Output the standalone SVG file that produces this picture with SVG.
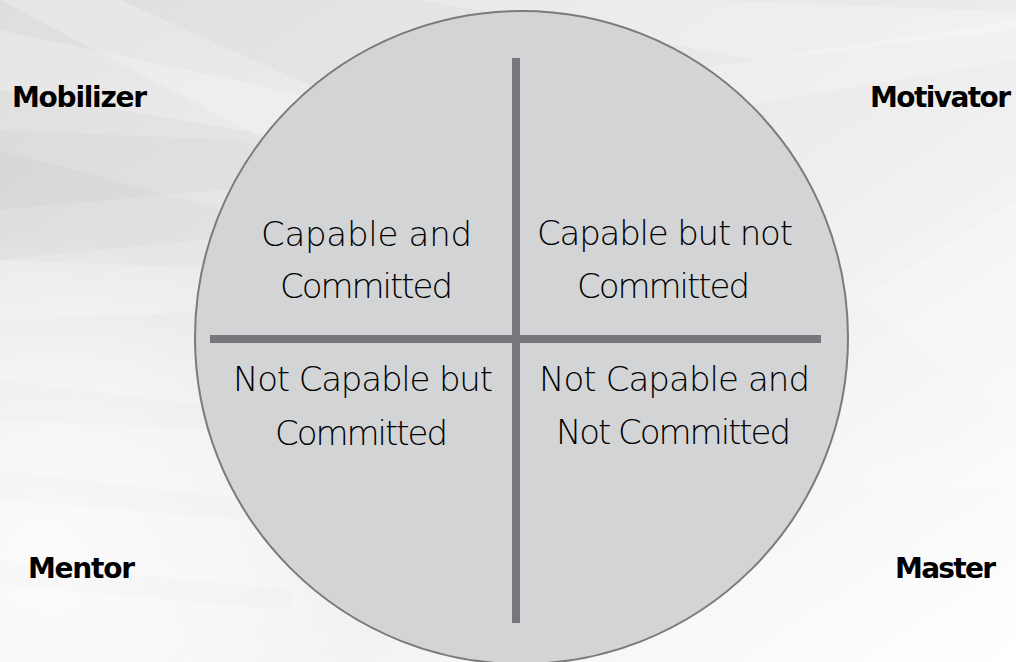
<svg xmlns="http://www.w3.org/2000/svg" width="1016" height="662" viewBox="0 0 1016 662">
  <defs>
    <linearGradient id="bgGrad" x1="0" y1="0" x2="1" y2="1">
      <stop offset="0" stop-color="#dedede"/>
      <stop offset="0.45" stop-color="#ebebeb"/>
      <stop offset="0.8" stop-color="#f8f8f8"/>
      <stop offset="1" stop-color="#ffffff"/>
    </linearGradient>
    <radialGradient id="lowerGlow" cx="40" cy="560" r="330" gradientUnits="userSpaceOnUse">
      <stop offset="0" stop-color="#ffffff" stop-opacity="0.85"/>
      <stop offset="0.6" stop-color="#ffffff" stop-opacity="0.5"/>
      <stop offset="1" stop-color="#ffffff" stop-opacity="0"/>
    </radialGradient>
    <style>
      .streak-l { fill: #ffffff; fill-opacity: 0.22; }
      .streak-d { fill: #000000; fill-opacity: 0.02; }
      .streak-f { fill: #000000; fill-opacity: 0.012; }
      .disc { fill: #d3d4d6; stroke: #7b7b7d; stroke-width: 2; }
      .divider { stroke: #76777b; stroke-width: 8; stroke-linecap: butt; }
      .quad { font-family: "DejaVu Sans", "Liberation Sans", sans-serif; font-weight: 200; font-size: 34px; fill: #000000; }
      .role { font-family: "DejaVu Sans", "Liberation Sans", sans-serif; font-weight: 700; font-size: 28px; fill: #000000; }
    </style>
  </defs>

  <!-- backdrop with soft diagonal streaks -->
  <g id="backdrop">
    <rect width="1016" height="662" fill="url(#bgGrad)"/>
    <polygon class="streak-l" points="0,0 120,0 520,180 380,200"/>
    <polygon class="streak-l" points="0,30 0,90 360,150 420,120"/>
    <polygon class="streak-d" points="0,130 0,210 330,180 240,140"/>
    <polygon class="streak-d" points="0,150 0,260 300,230"/>
    <polygon class="streak-l" points="0,260 0,320 260,310 250,270"/>
    <polygon class="streak-l" points="420,0 1016,0 1016,30 760,60"/>
    <polygon class="streak-l" points="560,90 1016,20 1016,60 720,110"/>
    <polygon class="streak-d" points="700,0 1016,0 1016,12"/>
    <polygon class="streak-l" points="860,300 1016,200 1016,420"/>
    <rect x="0" y="200" width="420" height="462" fill="url(#lowerGlow)"/>
    <polygon class="streak-f" points="0,380 0,420 230,430 240,410"/>
    <polygon class="streak-f" points="0,470 0,500 250,520 250,500"/>
    <polygon class="streak-f" points="0,560 0,585 290,610 290,590"/>
    <polygon class="streak-l" points="860,470 1016,430 1016,480 880,500"/>
  </g>

  <!-- circle split into four quadrants -->
  <g id="quadrant-disc">
    <circle class="disc" cx="521.5" cy="337.5" r="326.5"/>
  </g>

  <g id="dividers">
    <line class="divider" x1="516" y1="58" x2="516" y2="623"/>
    <line class="divider" x1="210" y1="339" x2="821" y2="339"/>
  </g>

  <g id="quad-capable-committed">
    <text class="quad" x="261" y="246" textLength="211" lengthAdjust="spacing">Capable and</text>
    <text class="quad" x="280" y="298" textLength="173" lengthAdjust="spacing">Committed</text>
  </g>
  <g id="quad-capable-not-committed">
    <text class="quad" x="537" y="245" textLength="256" lengthAdjust="spacing">Capable but not</text>
    <text class="quad" x="577" y="298" textLength="173" lengthAdjust="spacing">Committed</text>
  </g>
  <g id="quad-not-capable-committed">
    <text class="quad" x="233" y="391" textLength="260" lengthAdjust="spacing">Not Capable but</text>
    <text class="quad" x="275" y="445" textLength="173" lengthAdjust="spacing">Committed</text>
  </g>
  <g id="quad-not-capable-not-committed">
    <text class="quad" x="539" y="391" textLength="271" lengthAdjust="spacing">Not Capable and</text>
    <text class="quad" x="556" y="444" textLength="235" lengthAdjust="spacing">Not Committed</text>
  </g>

  <g id="role-mobilizer">
    <text class="role" x="12" y="107" textLength="135" lengthAdjust="spacing">Mobilizer</text>
  </g>
  <g id="role-motivator">
    <text class="role" x="870" y="107" textLength="141" lengthAdjust="spacing">Motivator</text>
  </g>
  <g id="role-mentor">
    <text class="role" x="28" y="578" textLength="107" lengthAdjust="spacing">Mentor</text>
  </g>
  <g id="role-master">
    <text class="role" x="895" y="578" textLength="101" lengthAdjust="spacing">Master</text>
  </g>
</svg>
